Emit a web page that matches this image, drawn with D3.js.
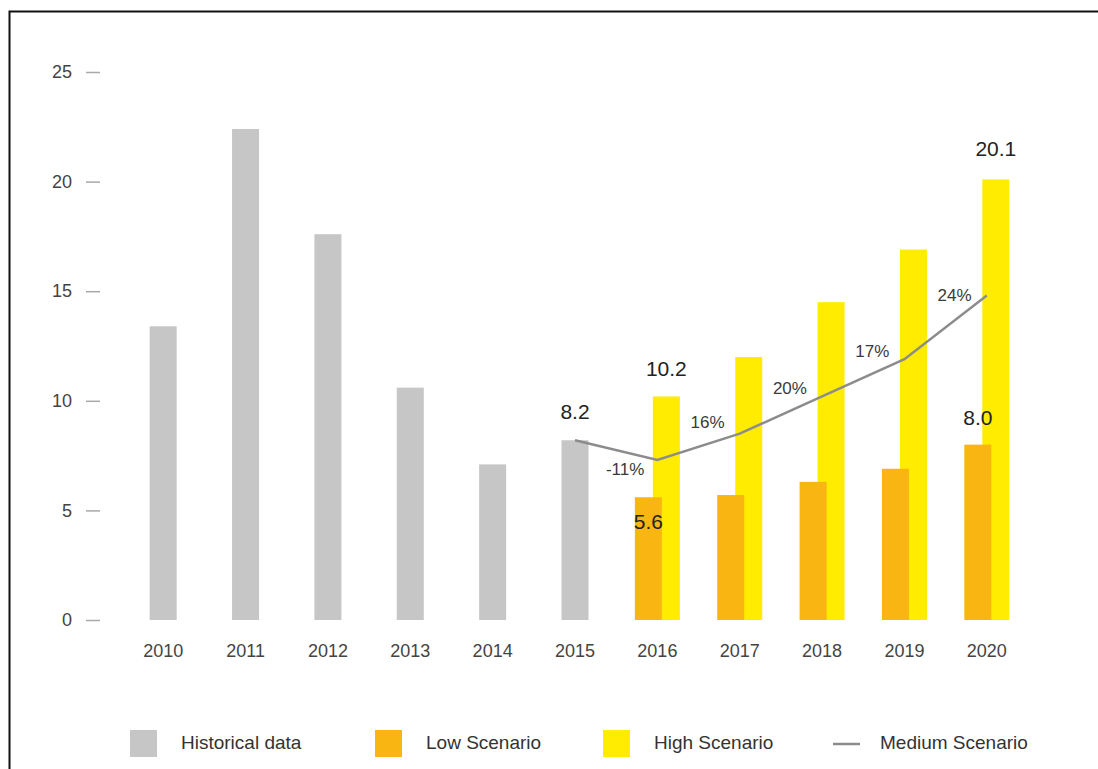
<!DOCTYPE html>
<html>
<head>
<meta charset="utf-8">
<script src="https://cdn.jsdelivr.net/npm/d3@7"></script>
<style>
  body { margin: 0; background: #fff; }
  svg { display: block; font-family: "Liberation Sans", Arial, Helvetica, sans-serif; }
</style>
</head>
<body>
<div id="chart"></div>
<script>
// Data
const years = ["2010", "2011", "2012", "2013", "2014", "2015", "2016", "2017", "2018", "2019", "2020"];
const historicalYears = ["2010", "2011", "2012", "2013", "2014", "2015"];
const historical = [13.4, 22.4, 17.6, 10.6, 7.1, 8.2];
const scenarioYears = ["2016", "2017", "2018", "2019", "2020"];
const lowScenario = [5.6, 5.7, 6.3, 6.9, 8.0];
const highScenario = [10.2, 12.0, 14.5, 16.9, 20.1];
const mediumYears = ["2015", "2016", "2017", "2018", "2019", "2020"];
const mediumScenario = [8.2, 7.3, 8.5, 10.2, 11.9, 14.8];
const growthLabels = ["-11%", "16%", "20%", "17%", "24%"];
const yTicks = [0, 5, 10, 15, 20, 25];

const colors = { hist: "#c6c6c6", low: "#f9b512", high: "#ffec00", med: "#8c8c8c" };
const W = 1098, H = 769;
const barW = 27;

const svg = d3.select("#chart").append("svg")
    .attr("width", W)
    .attr("height", H);

// Frame (cut off on the right and bottom like the source image)
svg.append("rect")
    .attr("x", 9.5).attr("y", 11.5)
    .attr("width", 1200).attr("height", 900)
    .attr("fill", "none")
    .attr("stroke", "#111")
    .attr("stroke-width", 2);

// Scales
const x = d3.scaleBand().domain(years).range([122, 1028]).padding(0);
const cx = d => x(d) + x.bandwidth() / 2;
const y = d3.scaleLinear().domain([0, 25]).range([620, 72]);

// Y axis
const yAxis = svg.append("g")
    .attr("transform", "translate(100,0)")
    .call(d3.axisLeft(y).tickValues(yTicks).tickSize(14).tickPadding(14));
yAxis.select(".domain").remove();
yAxis.selectAll("line").attr("stroke", "#a8a8a8").attr("stroke-width", 1.5);
yAxis.selectAll("text")
    .attr("fill", "#444")
    .style("font-size", "18px")
    .style("font-family", "'Liberation Sans', Arial, sans-serif");

// X axis
const xAxis = svg.append("g")
    .attr("transform", "translate(0,620)")
    .call(d3.axisBottom(x).tickSize(0).tickPadding(24));
xAxis.select(".domain").remove();
xAxis.selectAll("text")
    .attr("fill", "#444")
    .style("font-size", "18px")
    .style("font-family", "'Liberation Sans', Arial, sans-serif");

// Historical bars
svg.append("g").selectAll("rect")
    .data(historical)
    .join("rect")
    .attr("x", (d, i) => cx(historicalYears[i]) - barW / 2)
    .attr("y", d => y(d))
    .attr("width", barW)
    .attr("height", d => y(0) - y(d))
    .attr("fill", colors.hist);

// High scenario bars (behind)
svg.append("g").selectAll("rect")
    .data(highScenario)
    .join("rect")
    .attr("x", (d, i) => cx(scenarioYears[i]) + 9 - barW / 2)
    .attr("y", d => y(d))
    .attr("width", barW)
    .attr("height", d => y(0) - y(d))
    .attr("fill", colors.high);

// Low scenario bars (front)
svg.append("g").selectAll("rect")
    .data(lowScenario)
    .join("rect")
    .attr("x", (d, i) => cx(scenarioYears[i]) - 9 - barW / 2)
    .attr("y", d => y(d))
    .attr("width", barW)
    .attr("height", d => y(0) - y(d))
    .attr("fill", colors.low);

// Medium scenario line
const line = d3.line()
    .x((d, i) => cx(mediumYears[i]))
    .y(d => y(d));
svg.append("path")
    .datum(mediumScenario)
    .attr("d", line)
    .attr("fill", "none")
    .attr("stroke", colors.med)
    .attr("stroke-width", 2.5);

// Growth labels
growthLabels.forEach((t, i) => {
    const mx = (cx(mediumYears[i]) + cx(mediumYears[i + 1])) / 2;
    const my = (y(mediumScenario[i]) + y(mediumScenario[i + 1])) / 2;
    const slope = y(mediumScenario[i]) - y(mediumScenario[i + 1]);
    svg.append("text")
        .attr("x", mx + 9)
        .attr("y", i === 0 ? my + 20 : my - 18 - slope * 0.2)
        .attr("text-anchor", "middle")
        .attr("dominant-baseline", "middle")
        .attr("fill", "#3a3a3a")
        .style("font-size", "17px")
        .text(t);
});

// Value labels
function valueLabel(xPos, yPos, txt) {
    svg.append("text")
        .attr("x", xPos)
        .attr("y", yPos)
        .attr("text-anchor", "middle")
        .attr("dominant-baseline", "middle")
        .attr("fill", "#222")
        .style("font-size", "21px")
        .text(txt);
}
const last = scenarioYears.length - 1;
valueLabel(cx("2015"), y(historical[5]) - 27, historical[5].toFixed(1));
valueLabel(cx("2016") + 9, y(highScenario[0]) - 26, highScenario[0].toFixed(1));
valueLabel(cx("2016") - 9, y(lowScenario[0]) + 26, lowScenario[0].toFixed(1));
valueLabel(cx("2020") + 9, y(highScenario[last]) - 29, highScenario[last].toFixed(1));
valueLabel(cx("2020") - 9, y(lowScenario[last]) - 25, lowScenario[last].toFixed(1));

// Legend
const legend = [
    { label: "Historical data", color: colors.hist, type: "rect", x: 130 },
    { label: "Low Scenario", color: colors.low, type: "rect", x: 375 },
    { label: "High Scenario", color: colors.high, type: "rect", x: 603 },
    { label: "Medium Scenario", color: colors.med, type: "line", x: 833 }
];
const ly = 744;
legend.forEach(l => {
    const g = svg.append("g").attr("transform", `translate(${l.x},${ly})`);
    if (l.type === "rect") {
        g.append("rect")
            .attr("x", 0).attr("y", -14)
            .attr("width", 27).attr("height", 27)
            .attr("fill", l.color);
    } else {
        g.append("line")
            .attr("x1", 0).attr("x2", 27)
            .attr("y1", 0).attr("y2", 0)
            .attr("stroke", l.color)
            .attr("stroke-width", 2.5);
    }
    g.append("text")
        .attr("x", l.type === "rect" ? 51 : 47)
        .attr("y", 0)
        .attr("dominant-baseline", "middle")
        .attr("fill", "#333")
        .style("font-size", "19px")
        .text(l.label);
});
</script>
</body>
</html>
